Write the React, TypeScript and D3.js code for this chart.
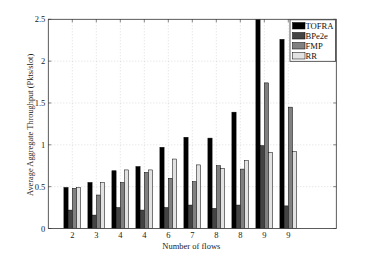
import React from "react";
import * as d3 from "d3";

const categories = ["2", "3", "4", "4", "6", "7", "8", "8", "9", "9"];
const seriesNames = ["TOFRA", "BPe2e", "FMP", "RR"];
const tofra = [0.49, 0.55, 0.69, 0.74, 0.97, 1.09, 1.08, 1.39, 2.6, 2.26];
const bpe2e = [0.22, 0.16, 0.25, 0.22, 0.25, 0.28, 0.24, 0.28, 0.99, 0.27];
const fmp = [0.48, 0.4, 0.55, 0.67, 0.6, 0.56, 0.75, 0.71, 1.74, 1.45];
const rr = [0.49, 0.55, 0.7, 0.7, 0.83, 0.76, 0.72, 0.81, 0.91, 0.92];
const yTicks = [0, 0.5, 1, 1.5, 2, 2.5];
const colors = ["#000000", "#444444", "#808080", "#e2e2e2"];

export default function App() {
  const W = 373, H = 257;
  const left = 48.3, right = 336.3, top = 19.3, bottom = 228.5;
  const x = d3.scaleLinear().domain([0, 12]).range([left, right]);
  const y = d3.scaleLinear().domain([0, 2.5]).range([bottom, top]);
  const series = [tofra, bpe2e, fmp, rr];
  const unit = x(1) - x(0);
  const groupW = 0.7 * unit;
  const inner = d3.scaleBand().domain(seriesNames).range([-groupW / 2, groupW / 2]).paddingInner(0);
  const font = "'Liberation Serif', 'Times New Roman', serif";
  const tickLen = 3;
  return (
    <div style={{ position: "absolute", left: 0, top: 0 }}>
      <svg width={W} height={H} style={{ display: "block" }}>
        <rect x={0} y={0} width={W} height={H} fill="#fff" />
        <defs>
          <clipPath id="plotclip">
            <rect x={left} y={top} width={right - left} height={bottom - top} />
          </clipPath>
        </defs>
        {/* grid */}
        {categories.map((_, i) => (
          <line key={"gx" + i} x1={x(i + 1)} x2={x(i + 1)} y1={top} y2={bottom} stroke="#c8c8c8" strokeWidth={0.6} strokeDasharray="1,2" />
        ))}
        {yTicks.slice(1, -1).map((t) => (
          <line key={"gy" + t} x1={left} x2={right} y1={y(t)} y2={y(t)} stroke="#c8c8c8" strokeWidth={0.6} strokeDasharray="1,2" />
        ))}
        {/* bars */}
        <g clipPath="url(#plotclip)">
          {categories.map((_, i) =>
            series.map((s, j) => {
              const bx = x(i + 1) + (inner(seriesNames[j]) as number);
              const bw = inner.bandwidth();
              return (
                <rect key={`b${i}-${j}`} x={bx} y={y(s[i])} width={bw} height={y(0) - y(s[i])} fill={colors[j]} stroke="#000" strokeWidth={0.5} />
              );
            })
          )}
        </g>
        {/* axes box */}
        <rect x={left} y={top} width={right - left} height={bottom - top} fill="none" stroke="#333" strokeWidth={0.8} />
        {/* ticks */}
        {categories.map((c, i) => (
          <g key={"xt" + i}>
            <line x1={x(i + 1)} x2={x(i + 1)} y1={bottom} y2={bottom - tickLen} stroke="#333" strokeWidth={0.6} />
            <line x1={x(i + 1)} x2={x(i + 1)} y1={top} y2={top + tickLen} stroke="#333" strokeWidth={0.6} />
            <text x={x(i + 1)} y={bottom + 9.5} textAnchor="middle" fontFamily={font} fontSize={8.5} fill="#222">{c}</text>
          </g>
        ))}
        {yTicks.map((t) => (
          <g key={"yt" + t}>
            <line x1={left} x2={left + tickLen} y1={y(t)} y2={y(t)} stroke="#333" strokeWidth={0.6} />
            <line x1={right} x2={right - tickLen} y1={y(t)} y2={y(t)} stroke="#333" strokeWidth={0.6} />
            <text x={left - 3} y={y(t) + 3} textAnchor="end" fontFamily={font} fontSize={8.5} fill="#222">{String(t)}</text>
          </g>
        ))}
        {/* axis labels */}
        <text x={(left + right) / 2 - 1} y={248.5} textAnchor="middle" fontFamily={font} fontSize={8.5} fill="#222">Number of flows</text>
        <text transform={`translate(33,${(top + bottom) / 2 + 1}) rotate(-90)`} textAnchor="middle" fontFamily={font} fontSize={8.4} fill="#222">Average Aggregate Throughput (Pkts/slot)</text>
        {/* legend */}
        <g>
          <rect x={290} y={19.8} width={45.5} height={41.5} fill="#fff" stroke="#333" strokeWidth={0.8} />
          {seriesNames.map((n, j) => (
            <g key={"lg" + n}>
              <rect x={292.5} y={22.5 + j * 10} width={12.5} height={6.5} fill={colors[j]} stroke="#000" strokeWidth={0.5} />
              <text x={305.5} y={29 + j * 10} fontFamily={font} fontSize={8.6} fill="#111">{n}</text>
            </g>
          ))}
        </g>
      </svg>
    </div>
  );
}
